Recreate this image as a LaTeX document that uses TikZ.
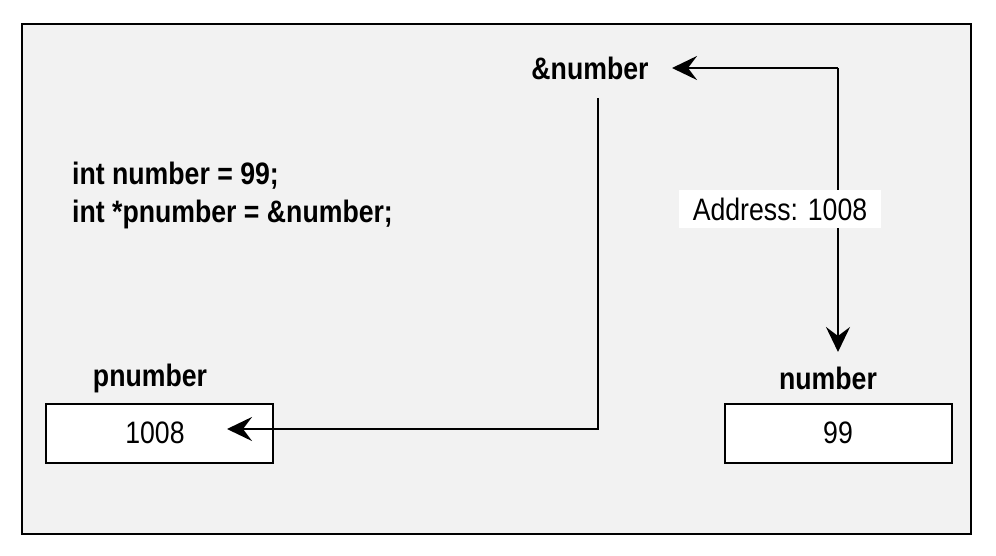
\documentclass[tikz,border=0pt]{standalone}
\usepackage{fontspec}
\setmainfont{Liberation Sans}[FakeStretch=0.86]
\usetikzlibrary{arrows.meta}
\begin{document}
\begin{tikzpicture}[x=1pt,y=-1pt,
  txt/.style={font=\fontsize{31}{36}\selectfont, inner sep=0pt},
  btxt/.style={font=\fontsize{31}{36}\selectfont\bfseries, inner sep=0pt},
  cell/.style={draw=black, line width=2pt, fill=white, minimum width=227pt, minimum height=59pt, inner sep=0pt, font=\fontsize{31}{36}\selectfont},
  arr/.style={line width=2.6pt, -{Stealth[length=25pt,width=24pt,inset=9pt]}},
  ln/.style={line width=2.6pt}]
\useasboundingbox (0,0) rectangle (996,556);
\node[draw=black, line width=2.2pt, fill=black!5, minimum width=949pt, minimum height=510pt, inner sep=0pt] (frame) at (496.5,279) {};
% labels
\node[btxt] (amp) at (590,68) {\&number};
\node[btxt, anchor=west] (code1) at (72,176) {int number = 99;};
\node[btxt, anchor=west] (code2) at (72,214) {int *pnumber = \&number;};
\node[btxt] (plbl) at (150,378) {pnumber};
\node[btxt] (nlbl) at (828,378) {number};
% cells
\node[cell] (pbox) at (159.5,433.5) {};
\node[txt] (pval) at (155,433) {1008};
\node[cell] (nbox) at (838.5,433.5) {};
\node[txt] (nval) at (838,433) {99};
% connectors
\coordinate (corner1) at (838,68);
\coordinate (ampTip) at (672,68);
\coordinate (numTip) at (838,352);
\draw[arr] (corner1) -- (ampTip);
\draw[arr] (corner1) -- (numTip);
\node[txt, fill=white, inner xsep=14pt, inner ysep=8pt] (addr) at (780,209) {Address: 1008};
\coordinate (dropTop) at (598,98);
\coordinate (corner2) at (598,429);
\coordinate (pTip) at (227,429);
\draw[arr] (dropTop) -- (corner2) -- (pTip);
\end{tikzpicture}
\end{document}
